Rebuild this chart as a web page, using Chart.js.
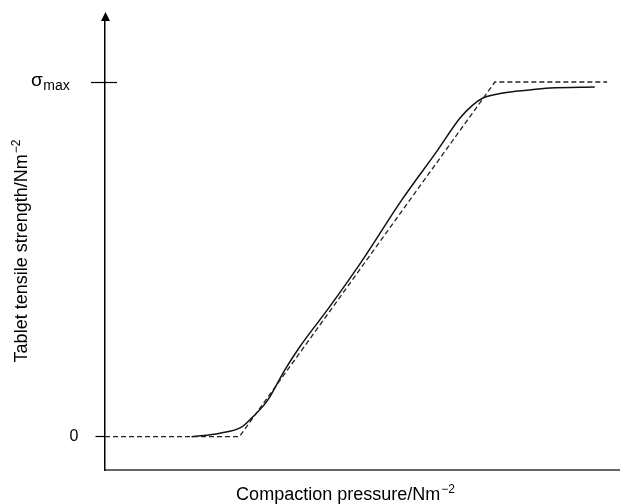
<!DOCTYPE html>
<html>
<head>
<meta charset="utf-8">
<script src="https://cdn.jsdelivr.net/npm/chart.js@4/dist/chart.umd.min.js"></script>
<style>
  html, body { margin: 0; padding: 0; background: #fff; }
  #wrap { width: 620px; height: 504px; }
</style>
</head>
<body>
<div id="wrap"><canvas id="chart" width="620" height="504"></canvas></div>
<script>
// ---------------------------
// Data (x in arbitrary pressure units, y as fraction of sigma max)
// ---------------------------
const measuredX = [1.68, 2.23, 2.65, 2.85, 3.16, 3.49, 3.78, 4.36, 5.00, 5.76, 6.46, 6.89, 7.14, 7.34, 7.73, 8.19, 8.64, 9.51];
const measuredY = [0.00, 0.01, 0.027, 0.053, 0.103, 0.188, 0.253, 0.366, 0.498, 0.667, 0.808, 0.898, 0.935, 0.955, 0.969, 0.977, 0.983, 0.986];

const idealX = [0, 2.61, 7.57, 9.75];
const idealY = [0, 0, 1, 1];

const yTickValues = [0, 1];
const yTickLabels = ['0', ''];       // sigma max label drawn with subscript below
const xTitle = 'Compaction pressure/Nm';
const yTitle = 'Tablet tensile strength/Nm';
const unitPower = '\u22122';

const FONT = '"Liberation Sans", Arial, Helvetica, sans-serif';

function toPoints(xs, ys) {
    return xs.map((x, i) => ({ x: x, y: ys[i] }));
}

// extra drawing: axis arrow, sigma max tick + label, axis titles
const decorations = {
    id: 'decorations',
    afterDraw(chart) {
        const ctx = chart.ctx;
        const area = chart.chartArea;
        const yScale = chart.scales.y;
        const xl = area.left + 0.5;

        ctx.save();
        ctx.fillStyle = '#000';
        ctx.strokeStyle = '#000';

        // arrow head on y axis
        ctx.beginPath();
        ctx.moveTo(xl, 12);
        ctx.lineTo(xl - 4.5, 21);
        ctx.lineTo(xl + 4.5, 21);
        ctx.closePath();
        ctx.fill();

        // sigma max tick crossing the axis
        const ySig = Math.round(yScale.getPixelForValue(1)) + 0.5;
        ctx.lineWidth = 1.2;
        ctx.beginPath();
        ctx.moveTo(91, ySig);
        ctx.lineTo(117, ySig);
        ctx.stroke();

        // sigma max label
        ctx.textBaseline = 'alphabetic';
        ctx.textAlign = 'left';
        ctx.font = '19px ' + FONT;
        ctx.fillText('\u03c3', 31, ySig + 3);
        const sw = ctx.measureText('\u03c3').width;
        ctx.font = '14px ' + FONT;
        ctx.fillText('max', 31 + sw + 0.5, ySig + 7.5);

        // x title
        ctx.font = '18px ' + FONT;
        const xw = ctx.measureText(xTitle).width;
        ctx.font = '12px ' + FONT;
        const pw = ctx.measureText(unitPower).width;
        const x0 = 345 - (xw + pw) / 2;
        ctx.font = '18px ' + FONT;
        ctx.fillText(xTitle, x0, 500);
        ctx.font = '12px ' + FONT;
        ctx.fillText(unitPower, x0 + xw + 1, 493);

        // y title (rotated)
        ctx.translate(27, 251.5);
        ctx.rotate(-Math.PI / 2);
        ctx.font = '18px ' + FONT;
        const yw = ctx.measureText(yTitle).width;
        const y0 = -(yw + pw) / 2;
        ctx.fillText(yTitle, y0, 0);
        ctx.font = '12px ' + FONT;
        ctx.fillText(unitPower, y0 + yw + 1, -7);
        ctx.restore();
    }
};

new Chart(document.getElementById('chart').getContext('2d'), {
    type: 'scatter',
    data: {
        datasets: [
            {
                label: 'Ideal',
                data: toPoints(idealX, idealY),
                showLine: true,
                borderColor: '#222',
                borderWidth: 1.3,
                borderDash: [5, 3],
                pointRadius: 0,
                fill: false,
            },
            {
                label: 'Measured',
                data: toPoints(measuredX, measuredY),
                showLine: true,
                borderColor: '#111',
                borderWidth: 1.5,
                cubicInterpolationMode: 'monotone',
                pointRadius: 0,
                fill: false,
            },
        ],
    },
    plugins: [decorations],
    options: {
        responsive: false,
        animation: false,
        layout: { padding: { top: 18, right: 0, bottom: 0, left: 0 } },
        plugins: {
            legend: { display: false },
            tooltip: { enabled: false },
        },
        scales: {
            x: {
                type: 'linear',
                min: 0,
                max: 10,
                ticks: { display: false },
                grid: { display: false, drawTicks: false },
                border: { display: true, color: '#666', width: 2 },
                afterFit(scale) {
                    scale.height = 34;
                    scale.paddingLeft = 0;
                    scale.paddingRight = 0;
                },
            },
            y: {
                type: 'linear',
                min: -0.0939,
                max: 1.1805,
                afterBuildTicks(scale) {
                    scale.ticks = yTickValues.map(v => ({ value: v }));
                },
                ticks: {
                    color: '#000',
                    padding: 17,
                    font: { family: FONT, size: 16 },
                    callback: (v) => yTickLabels[yTickValues.indexOf(v)],
                },
                grid: {
                    drawOnChartArea: false,
                    drawTicks: true,
                    tickLength: 9.5,
                    tickWidth: 1.2,
                    color: (c) => (c.tick && c.tick.value === 0 ? '#000' : 'rgba(0,0,0,0)'),
                },
                border: { display: true, color: '#000', width: 1.5 },
                afterFit(scale) {
                    scale.width = 105;
                    scale.paddingTop = 0;
                    scale.paddingBottom = 0;
                },
            },
        },
    },
});
</script>
</body>
</html>
